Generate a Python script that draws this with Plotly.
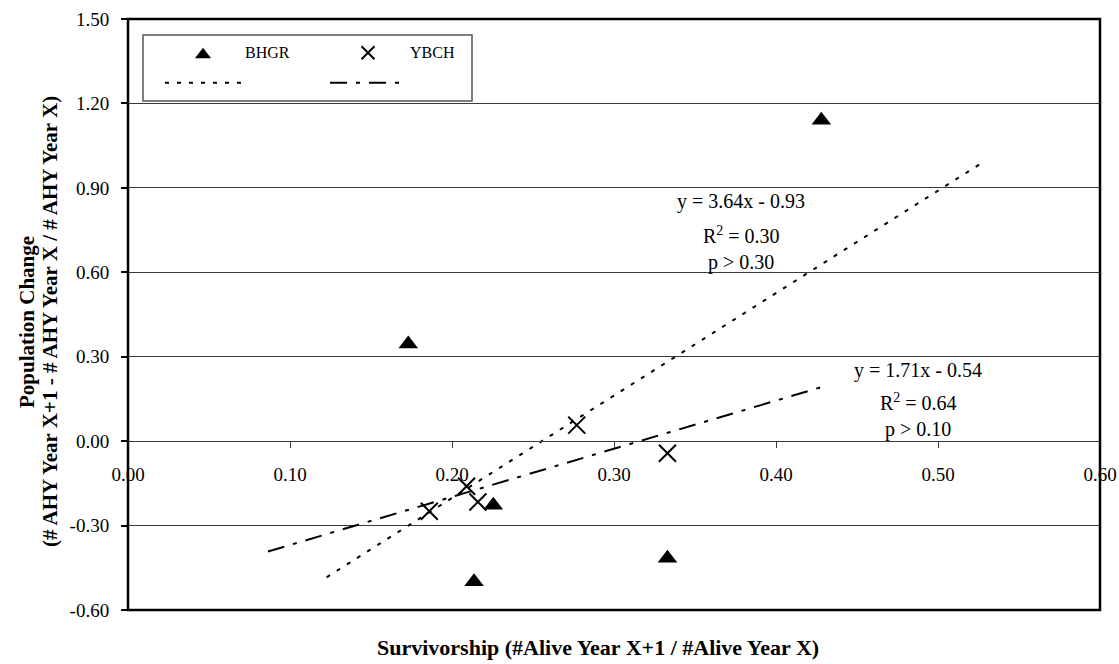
import plotly.graph_objects as go

# Survivorship vs. population change for two species
bhgr_x = [0.173, 0.428, 0.2255, 0.2136, 0.333]
bhgr_y = [0.345, 1.14, -0.228, -0.50, -0.416]
ybch_x = [0.277, 0.209, 0.216, 0.186, 0.333]
ybch_y = [0.057, -0.160, -0.216, -0.249, -0.043]

# linear fits: (slope, intercept) and the x-span each trend line covers
bhgr_fit = (3.64, -0.93)
ybch_fit = (1.71, -0.54)
bhgr_fit_span = [0.1226, 0.527]
ybch_fit_span = [0.0864, 0.431]

bhgr_stats = ["y = 3.64x - 0.93", "R<sup>2</sup> = 0.30", "p > 0.30"]
ybch_stats = ["y = 1.71x - 0.54", "R<sup>2</sup> = 0.64", "p > 0.10"]

x_ticks = [0.0, 0.1, 0.2, 0.3, 0.4, 0.5, 0.6]
x_tick_labels = ["0.00", "0.10", "0.20", "0.30", "0.40", "0.50", "0.60"]
y_ticks = [-0.6, -0.3, 0.0, 0.3, 0.6, 0.9, 1.2, 1.5]
y_tick_labels = ["-0.60", "-0.30", "0.00", "0.30", "0.60", "0.90", "1.20", "1.50"]

series_names = ["BHGR", "YBCH"]

x_title = "Survivorship (#Alive Year X+1 / #Alive Year X)"
y_title = ["Population Change", "(# AHY Year X+1 - # AHY Year X / # AHY Year X)"]

# ---- page geometry (pixels) ----
W, H = 1119, 664
L, R, T, B = 128, 1100, 19, 610
SERIF = "Liberation Serif"
GRID = "#3a3a3a"

DOT = "4px,8px"
DASHDOT = "17px,9px,4px,9px"


def px_x(p):
    return (p - L) / (R - L)


def px_y(p):
    return (B - p) / (B - T)


def fit_line(fit, span):
    m, c = fit
    return span, [m * v + c for v in span]


fig = go.Figure()

bx, by = fit_line(bhgr_fit, bhgr_fit_span)
yx, yy = fit_line(ybch_fit, ybch_fit_span)
fig.add_trace(go.Scatter(x=bx, y=by, mode="lines", showlegend=False,
                         line=dict(color="black", width=2, dash=DOT)))
fig.add_trace(go.Scatter(x=yx, y=yy, mode="lines", showlegend=False,
                         line=dict(color="black", width=2, dash=DASHDOT)))

fig.add_trace(go.Scatter(x=bhgr_x, y=bhgr_y, mode="markers", name=series_names[0],
                         showlegend=False,
                         marker=dict(symbol="triangle-up", size=17, color="black")))
fig.add_trace(go.Scatter(x=ybch_x, y=ybch_y, mode="markers", name=series_names[1],
                         showlegend=False,
                         marker=dict(symbol="x-thin-open", size=17, color="black",
                                     line=dict(color="black", width=2))))

# ---- legend box drawn on a pixel-scaled overlay ----
leg_box = (143, 35, 472, 101)
row1, row2 = 52.7, 82.7
fig.add_trace(go.Scatter(x=[203], y=[row1 + 2], xaxis="x2", yaxis="y2", mode="markers",
                         showlegend=False, hoverinfo="skip",
                         marker=dict(symbol="triangle-up", size=14, color="black")))
fig.add_trace(go.Scatter(x=[368], y=[row1], xaxis="x2", yaxis="y2", mode="markers",
                         showlegend=False, hoverinfo="skip",
                         marker=dict(symbol="x-thin-open", size=13, color="black",
                                     line=dict(color="black", width=2))))
fig.add_trace(go.Scatter(x=[165, 242], y=[row2, row2], xaxis="x2", yaxis="y2", mode="lines",
                         showlegend=False, hoverinfo="skip",
                         line=dict(color="black", width=2, dash=DOT)))
fig.add_trace(go.Scatter(x=[330, 407], y=[row2, row2], xaxis="x2", yaxis="y2", mode="lines",
                         showlegend=False, hoverinfo="skip",
                         line=dict(color="black", width=2, dash=DASHDOT)))

annotations = []
for name, lx in zip(series_names, [243, 408]):
    annotations.append(dict(xref="x2", yref="y2", x=lx, y=row1, text=name,
                            showarrow=False, xanchor="left", yanchor="middle",
                            font=dict(family=SERIF, size=16, color="black")))

# regression statistics
for lines, cx, cys in [(bhgr_stats, 741, [201.7, 235, 262]),
                       (ybch_stats, 918, [370, 401.7, 429])]:
    for txt, cy in zip(lines, cys):
        annotations.append(dict(xref="x2", yref="y2", x=cx, y=cy, text=txt,
                                showarrow=False, xanchor="center", yanchor="middle",
                                font=dict(family=SERIF, size=20, color="black")))

# axis titles, placed in paper space around the plot frame
annotations.append(dict(xref="paper", yref="paper", x=px_x(598), y=px_y(647),
                        text="<b>%s</b>" % x_title,
                        showarrow=False, xanchor="center", yanchor="middle",
                        font=dict(family=SERIF, size=22, color="black")))
for txt, cx in zip(y_title, [27, 50]):
    annotations.append(dict(xref="paper", yref="paper", x=px_x(cx), y=px_y(322),
                            text="<b>%s</b>" % txt,
                            textangle=-90, showarrow=False,
                            xanchor="center", yanchor="middle",
                            font=dict(family=SERIF, size=21, color="black")))

shapes = [
    dict(type="rect", xref="x2", yref="y2", x0=leg_box[0], y0=leg_box[1],
         x1=leg_box[2], y1=leg_box[3], line=dict(color="#555555", width=1.5)),
    dict(type="rect", xref="paper", yref="paper", x0=0, y0=0, x1=1, y1=1,
         line=dict(color="black", width=2.5), layer="above"),
]

y_min, y_max = y_ticks[0], y_ticks[-1]
fig.update_layout(
    width=W, height=H,
    margin=dict(l=L, r=W - R, t=T, b=H - B, autoexpand=False),
    paper_bgcolor="white", plot_bgcolor="white",
    showlegend=False,
    xaxis=dict(range=[x_ticks[0], x_ticks[-1]], tickvals=x_ticks, ticktext=x_tick_labels,
               showgrid=False, zeroline=False, anchor="free",
               position=(0 - y_min) / (y_max - y_min),
               showline=True, linecolor=GRID, linewidth=1,
               ticks="outside", ticklen=6, tickcolor=GRID, tickwidth=1,
               ticklabelstandoff=10, automargin=False,
               tickfont=dict(family=SERIF, size=19, color="black")),
    yaxis=dict(range=[y_min, y_max], tickvals=y_ticks, ticktext=y_tick_labels,
               showgrid=True, gridcolor=GRID, gridwidth=1, zeroline=False,
               showline=False, ticks="outside", ticklen=6, tickcolor="black",
               tickwidth=1.5, ticklabelstandoff=8, automargin=False,
               tickfont=dict(family=SERIF, size=19, color="black")),
    xaxis2=dict(overlaying="x", range=[L, R], visible=False, anchor="y2"),
    yaxis2=dict(overlaying="y", range=[B, T], visible=False, anchor="x2"),
    annotations=annotations,
    shapes=shapes,
)

fig.write_html("out.html")
